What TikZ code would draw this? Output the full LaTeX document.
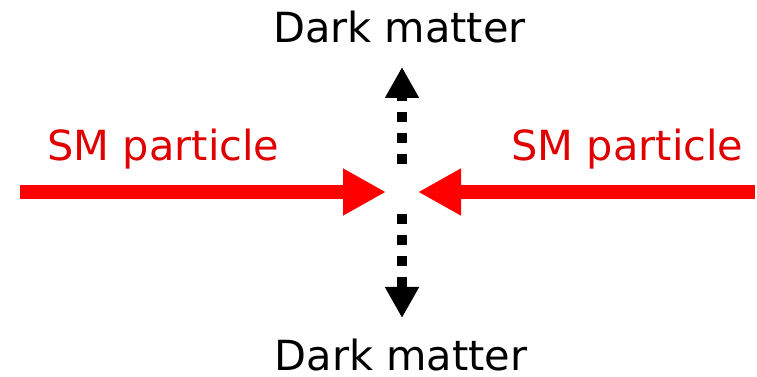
\documentclass[tikz,border=0pt]{standalone}
\usepackage{fontspec}
\setmainfont{DejaVu Sans}
\usepackage{xcolor}
\usepackage{tikz}
\usetikzlibrary{arrows.meta,positioning}

\definecolor{smred}{RGB}{225,0,0}

\begin{document}
\begin{tikzpicture}[
      x=1pt, y=1pt,
      caption/.style={font=\fontsize{41.5}{48}\selectfont, inner sep=0pt, anchor=base},
      smtext/.style={caption, text=smred},
      beam/.style={red, line width=13.5pt, -{Triangle[length=43pt, width=44pt]}},
      dmflow/.style={black, line width=10pt, dash pattern=on 10pt off 11pt,
                     -{Triangle[length=31pt, width=32pt]}}
  ]
    \useasboundingbox (0,0) rectangle (757,377);

    % collision point and the ends of the four arrows
    \coordinate (vertex) at (402,185);
    \coordinate[left=16pt of vertex] (hitL);
    \coordinate[right=16pt of vertex] (hitR);
    \coordinate (beamL) at (20,185);
    \coordinate (beamR) at (755,185);
    \coordinate[above=28pt of vertex] (dmUpStart);
    \coordinate[below=22pt of vertex] (dmDownStart);
    \coordinate (dmUpTip) at (402,310);
    \coordinate (dmDownTip) at (402,59);

    \node[smtext] (smLeft) at (163.5,216) {SM particle};
    \node[smtext] (smRight) at (627.5,216) {SM particle};
    \node[caption] (dmTop) at (399.5,334) {Dark matter};
    \node[caption] (dmBottom) at (401,6) {Dark matter};

    \draw[beam] (beamL) -- (hitL);
    \draw[beam] (beamR) -- (hitR);
    \draw[dmflow] (dmUpStart) -- (dmUpTip);
    \draw[dmflow] (dmDownStart) -- (dmDownTip);
  \end{tikzpicture}
\end{document}
